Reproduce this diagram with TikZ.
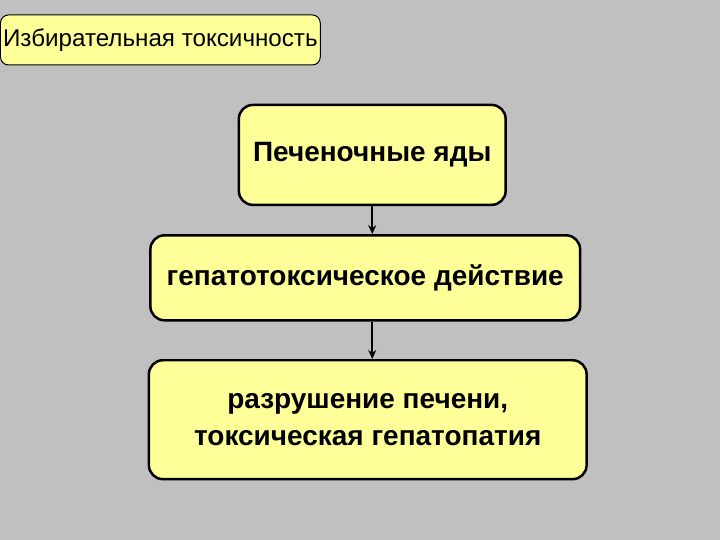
\documentclass[tikz,border=0pt]{standalone}
\usepackage{fontspec}
\setmainfont{Liberation Sans}
\usetikzlibrary{arrows.meta}
\definecolor{slidegray}{HTML}{C0C0C0}
\definecolor{paleyellow}{HTML}{FFFF99}
\tikzset{
  topic/.style={draw,line width=1pt,fill=paleyellow,rounded corners=8pt,inner sep=0pt,font=\fontsize{24.2}{28}\selectfont},
  stage/.style={draw,line width=2.5pt,fill=paleyellow,rounded corners=14pt,inner sep=0pt,align=center,font=\bfseries\fontsize{28}{37}\selectfont},
  link/.style={draw,line width=1.5pt,-{Stealth[length=9pt,width=8pt]}}
}

\begin{document}
\begin{tikzpicture}[x=1pt,y=-1pt]
  \fill[slidegray] (0,0) rectangle (720,540);
  \node[topic,minimum width=320pt,minimum height=50pt] (topic) at (160,40) {Избирательная токсичность};
  \node[stage,minimum width=267pt,minimum height=100pt] (poison) at (372,155) {Печеночные яды};
  \node[stage,minimum width=430pt,minimum height=85pt] (action) at (365,278) {гепатотоксическое действие};
  \node[stage,minimum width=438pt,minimum height=119pt] (damage) at (367.5,420) {разрушение печени,\\токсическая гепатопатия};
  \draw[link] (poison.south) -- (poison.south |- action.north);
  \draw[link] (poison.south |- action.south) -- (poison.south |- damage.north);
\end{tikzpicture}
\end{document}
